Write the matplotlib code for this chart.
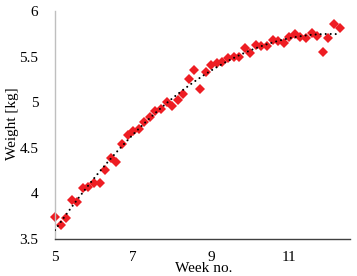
import numpy as np
import matplotlib
matplotlib.use('Agg')
import matplotlib.pyplot as plt

plt.rcParams['font.family'] = 'Liberation Serif'
plt.rcParams['font.size'] = 11

# daily weights, x in weeks (day / 7 from week 5)
days = np.arange(52)
weight = [3.74, 3.65, 3.73, 3.93, 3.91, 4.06, 4.07, 4.11, 4.11, 4.26,
          4.39, 4.35, 4.54, 4.64, 4.68, 4.71, 4.78, 4.84, 4.90, 4.93,
          5.00, 4.96, 5.02, 5.09, 5.26, 5.35, 5.14, 5.33, 5.41, 5.43,
          5.44, 5.48, 5.50, 5.50, 5.59, 5.54, 5.63, 5.62, 5.62, 5.68,
          5.67, 5.65, 5.72, 5.75, 5.71, 5.70, 5.76, 5.73, 5.55, 5.70,
          5.86, 5.81]
week = 5 + days / 7.0

xticks = [5, 7, 9, 11]
yticks = [3.5, 4, 4.5, 5, 5.5, 6]
ytick_labels = ['3.5', '4', '4.5', '5', '5.5', '6']

fig = plt.figure(figsize=(3.57, 2.76), dpi=100)
ax = fig.add_axes([0.154, 0.134, 0.826, 0.826])

ax.plot(week, weight, 'D', markersize=5.2, color='#EE1D23',
        markeredgewidth=0, zorder=2, clip_on=False)

# polynomial trendline (order 2)
coef = np.polyfit(week, weight, 2)
xt = np.linspace(week[0], week[-1], 200)
ax.plot(xt, np.polyval(coef, xt), color='black', lw=1.5,
        linestyle=(0, (0.01, 2.4)), dash_capstyle='round', zorder=3)

ax.set_xlim(5, 12.55)
ax.set_ylim(3.5, 6)
ax.set_xticks(xticks)
ax.set_yticks(yticks)
ax.set_yticklabels(ytick_labels)
ax.tick_params(axis='y', length=0, pad=12)
ax.tick_params(axis='x', length=0, pad=8.5)

for s in ['top', 'right']:
    ax.spines[s].set_visible(False)
ax.spines['left'].set_color('#BFBFBF')
ax.spines['bottom'].set_color('#404040')
ax.spines['left'].set_linewidth(1)
ax.spines['bottom'].set_linewidth(1)

fig.text(204/357, 1 - 268/276, 'Week no.', ha='center', va='center', fontsize=11)
fig.text(13/357, 1 - 124/276, 'Weight [kg]', ha='center', va='center',
         rotation=90, fontsize=11)

fig.savefig('out.png', dpi=100)
